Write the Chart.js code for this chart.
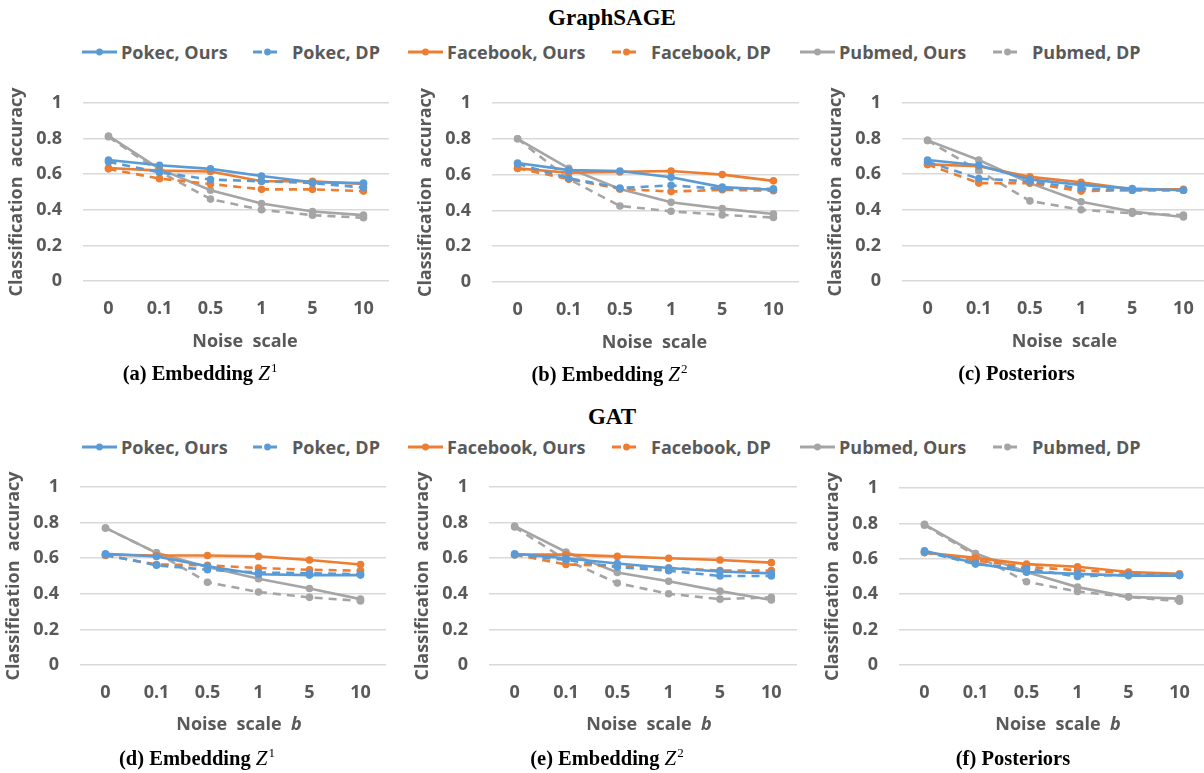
<!DOCTYPE html>
<html>
<head>
<meta charset="utf-8">
<script src="https://cdn.jsdelivr.net/npm/chart.js@4.4.1/dist/chart.umd.min.js"></script>
<style>
  html, body { margin: 0; padding: 0; background: #fff; }
  body { width: 1204px; height: 773px; position: relative; overflow: hidden; }
  canvas { position: absolute; }
  .title, .caption { position: absolute; font-family: "Liberation Serif", serif; font-weight: bold; color: #000; transform: translate(-50%, -50%); white-space: nowrap; }
  .title { font-size: 23px; }
  .caption { font-size: 20.5px; }
  .caption i { font-weight: normal; font-family: "Liberation Serif", serif; font-size: 21px; }
  .caption sup { font-size: 13px; font-weight: normal; vertical-align: 8px; line-height: 0; margin-left: 1px; }
  .xtitle { position: absolute; font-family: "Open Sans", sans-serif; font-weight: bold; font-size: 18px; color: #595959; transform: translate(-50%, -50%); white-space: pre; }
  .legend-item { position: absolute; display: flex; align-items: center; transform: translateY(-50%); font-family: "Open Sans", sans-serif; font-weight: bold; font-size: 18px; color: #595959; white-space: nowrap; }
</style>
</head>
<body>
<script>
// x categories and tick labels
const noiseScales = ['0', '0.1', '0.5', '1', '5', '10'];
const yTicks = [0, 0.2, 0.4, 0.6, 0.8, 1];
const seriesNames = ['Pokec, Ours', 'Pokec, DP', 'Facebook, Ours', 'Facebook, DP', 'Pubmed, Ours', 'Pubmed, DP'];
const seriesColors = ['#5B9BD5', '#5B9BD5', '#ED7D31', '#ED7D31', '#A5A5A5', '#A5A5A5'];
const seriesDashed = [false, true, false, true, false, true];

// GraphSAGE, rows follow seriesNames
const sageZ1 = [
  [0.68, 0.65, 0.63, 0.59, 0.555, 0.55],
  [0.67, 0.61, 0.57, 0.56, 0.55, 0.525],
  [0.635, 0.62, 0.615, 0.56, 0.56, 0.545],
  [0.63, 0.575, 0.545, 0.515, 0.515, 0.505],
  [0.815, 0.63, 0.51, 0.435, 0.39, 0.37],
  [0.81, 0.615, 0.46, 0.40, 0.37, 0.355]
];
const sageZ2 = [
  [0.665, 0.625, 0.62, 0.585, 0.53, 0.515],
  [0.66, 0.58, 0.525, 0.54, 0.52, 0.52],
  [0.635, 0.61, 0.615, 0.62, 0.60, 0.565],
  [0.635, 0.575, 0.52, 0.505, 0.515, 0.51],
  [0.80, 0.635, 0.52, 0.445, 0.41, 0.38],
  [0.80, 0.575, 0.425, 0.395, 0.375, 0.36]
];
const sagePost = [
  [0.68, 0.65, 0.57, 0.54, 0.52, 0.51],
  [0.67, 0.575, 0.56, 0.52, 0.51, 0.51],
  [0.655, 0.645, 0.585, 0.555, 0.515, 0.515],
  [0.655, 0.55, 0.55, 0.505, 0.51, 0.51],
  [0.79, 0.68, 0.55, 0.445, 0.39, 0.36],
  [0.79, 0.62, 0.45, 0.40, 0.38, 0.37]
];

// GAT
const gatZ1 = [
  [0.625, 0.61, 0.555, 0.51, 0.505, 0.505],
  [0.62, 0.56, 0.535, 0.52, 0.515, 0.51],
  [0.62, 0.615, 0.615, 0.61, 0.59, 0.565],
  [0.615, 0.565, 0.56, 0.545, 0.535, 0.53],
  [0.77, 0.63, 0.55, 0.485, 0.43, 0.37],
  [0.77, 0.63, 0.465, 0.41, 0.38, 0.36]
];
const gatZ2 = [
  [0.625, 0.60, 0.57, 0.545, 0.525, 0.515],
  [0.62, 0.59, 0.55, 0.53, 0.50, 0.50],
  [0.62, 0.62, 0.61, 0.60, 0.59, 0.575],
  [0.62, 0.565, 0.555, 0.545, 0.53, 0.53],
  [0.78, 0.635, 0.52, 0.47, 0.415, 0.365],
  [0.775, 0.59, 0.46, 0.40, 0.37, 0.38]
];
const gatPost = [
  [0.645, 0.575, 0.525, 0.515, 0.505, 0.505],
  [0.64, 0.57, 0.545, 0.50, 0.51, 0.51],
  [0.635, 0.605, 0.57, 0.555, 0.525, 0.515],
  [0.635, 0.59, 0.555, 0.535, 0.52, 0.51],
  [0.795, 0.63, 0.525, 0.44, 0.385, 0.375],
  [0.79, 0.62, 0.47, 0.415, 0.385, 0.36]
];

const groupTitles = ['GraphSAGE', 'GAT'];
const captions = [
  ['(a) Embedding ', '1'], ['(b) Embedding ', '2'], ['(c) Posteriors', null],
  ['(d) Embedding ', '1'], ['(e) Embedding ', '2'], ['(f) Posteriors', null]
];

// plot area of every panel, in page pixels
const panels = [
  { data: sageZ1, left: 83, top: 103, width: 306, height: 178, row: 0 },
  { data: sageZ2, left: 492, top: 103, width: 307, height: 179, row: 0 },
  { data: sagePost, left: 902, top: 103, width: 307, height: 178, row: 0 },
  { data: gatZ1, left: 80, top: 487, width: 306, height: 178, row: 1 },
  { data: gatZ2, left: 489, top: 487, width: 308, height: 178, row: 1 },
  { data: gatPost, left: 899, top: 488, width: 306, height: 177, row: 1 }
];

const Y_AXIS_W = 83, X_AXIS_H = 70, PAD_TOP = 18, PAD_RIGHT = 4;
const textGray = '#595959';
const sans = '"Open Sans", sans-serif';

function addDiv(cls, html, x, y) {
  const d = document.createElement('div');
  d.className = cls;
  d.innerHTML = html;
  d.style.left = x + 'px';
  d.style.top = y + 'px';
  document.body.appendChild(d);
  return d;
}

function swatch(color, dashed) {
  const w = dashed ? 29 : 35;
  const dash = dashed ? ' stroke-dasharray="9 6"' : '';
  return `<svg width="${w}" height="10" style="margin-right:${dashed ? 10 : 4}px">` +
    `<line x1="0" y1="5" x2="${w}" y2="5" stroke="${color}" stroke-width="3"${dash}/>` +
    `<circle cx="${w / 2}" cy="5" r="3.4" fill="${color}"/></svg>`;
}

// headers, legends
const legendX = [82, 253, 408, 612, 800, 993];
const rowTitleY = [18, 417];
const rowLegendY = [52, 447];
[0, 1].forEach(r => {
  addDiv('title', groupTitles[r], 612, rowTitleY[r]);
  seriesNames.forEach((name, i) => {
    addDiv('legend-item', swatch(seriesColors[i], seriesDashed[i]) + `<span>${name}</span>`, legendX[i], rowLegendY[r]);
  });
});

panels.forEach((p, idx) => {
  const canvas = document.createElement('canvas');
  const cw = Y_AXIS_W + p.width + PAD_RIGHT;
  const ch = PAD_TOP + p.height + X_AXIS_H;
  canvas.width = cw;
  canvas.height = ch;
  canvas.style.left = (p.left - Y_AXIS_W) + 'px';
  canvas.style.top = (p.top - PAD_TOP) + 'px';
  canvas.style.width = cw + 'px';
  canvas.style.height = ch + 'px';
  document.body.appendChild(canvas);

  new Chart(canvas.getContext('2d'), {
    type: 'line',
    data: {
      labels: noiseScales,
      datasets: seriesNames.map((name, i) => ({
        label: name,
        data: p.data[i],
        borderColor: seriesColors[i],
        backgroundColor: seriesColors[i],
        borderWidth: 2.6,
        borderDash: seriesDashed[i] ? [8, 6] : [],
        pointRadius: 3.8,
        pointBorderWidth: 0,
        tension: 0,
        fill: false
      }))
    },
    options: {
      responsive: false,
      animation: false,
      devicePixelRatio: 1,
      layout: { autoPadding: false, padding: { top: PAD_TOP, right: PAD_RIGHT, left: 0, bottom: 0 } },
      plugins: { legend: { display: false }, tooltip: { enabled: false } },
      scales: {
        x: {
          offset: true,
          grid: { display: false, drawTicks: false },
          border: { display: false },
          ticks: { color: textGray, font: { family: sans, size: 18, weight: 'bold' }, padding: 17, maxRotation: 0 },
          afterFit: s => { s.height = X_AXIS_H; }
        },
        y: {
          min: 0, max: 1,
          afterBuildTicks: s => { s.ticks = yTicks.map(v => ({ value: v })); },
          grid: { color: '#D9D9D9', lineWidth: 1.5, drawTicks: false },
          border: { display: false },
          ticks: {
            color: textGray, font: { family: sans, size: 18, weight: 'bold' }, padding: 21,
            callback: v => String(+v.toFixed(1))
          },
          title: {
            display: true, text: 'Classification  accuracy', color: textGray,
            font: { family: sans, size: 18, weight: 'bold' }, padding: { top: 6, bottom: 0 }
          },
          // fixed axis box, no extra room reserved for the end labels
          afterFit: s => { s.width = Y_AXIS_W; s.paddingTop = 0; s.paddingBottom = 0; }
        }
      }
    }
  });

  const cx = p.left + p.width / 2;
  const bottom = p.top + p.height;
  if (p.row === 0) {
    addDiv('xtitle', 'Noise  scale', cx + 9, bottom + 59);
  } else {
    addDiv('xtitle', 'Noise  scale  <i>b</i>', cx + 6, bottom + 58);
  }
  const cap = captions[idx];
  const capHtml = cap[1] ? `${cap[0]}<i>Z</i><sup>${cap[1]}</sup>` : cap[0];
  addDiv('caption', capHtml, cx - 36 + (idx % 3 === 2 ? -3 : 0), bottom + (p.row === 0 ? 92 : 93));
});
</script>
</body>
</html>
